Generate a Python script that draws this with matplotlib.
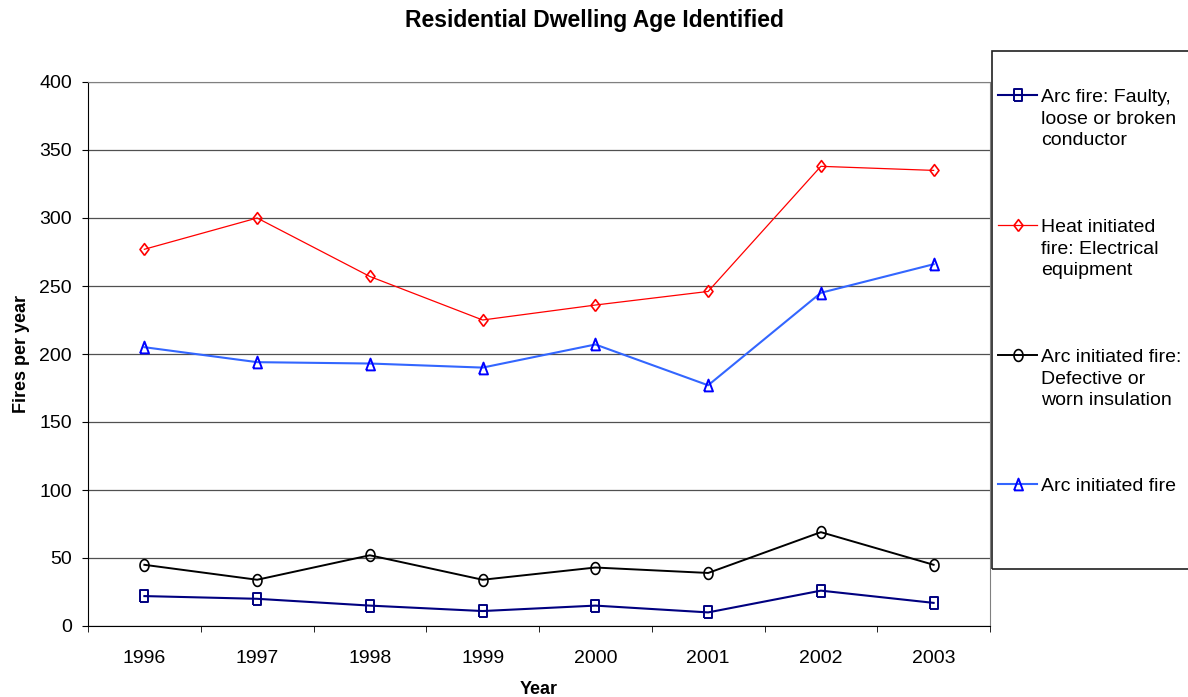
import matplotlib
matplotlib.use("Agg")
import numpy as np
import matplotlib.pyplot as plt
from matplotlib.ticker import MultipleLocator, FixedLocator
from matplotlib.lines import Line2D
from matplotlib.patches import Rectangle

plt.rcParams['font.family'] = ['Liberation Sans', 'DejaVu Sans']

years = ['1996', '1997', '1998', '1999', '2000', '2001', '2002', '2003']
conductor = [22, 20, 15, 11, 15, 10, 26, 17]
heat = [277, 300, 257, 225, 236, 246, 338, 335]
insulation = [45, 34, 52, 34, 43, 39, 69, 45]
arc = [205, 194, 193, 190, 207, 177, 245, 266]

labels = ['Arc fire: Faulty,\nloose or broken\nconductor',
          'Heat initiated\nfire: Electrical\nequipment',
          'Arc initiated fire:\nDefective or\nworn insulation',
          'Arc initiated fire']

W, H = 1188, 697

# markers in the reference are a bit taller than wide
sq = [(-0.38, -0.5), (0.38, -0.5), (0.38, 0.5), (-0.38, 0.5), (-0.38, -0.5)]
dia = [(0, -0.5), (0.38, 0), (0, 0.5), (-0.38, 0), (0, -0.5)]
tri = [(-0.38, -0.5), (0.38, -0.5), (0, 0.5), (-0.38, -0.5)]
t = np.linspace(0, 2 * np.pi, 41)
ell = list(zip(0.38 * np.cos(t), 0.5 * np.sin(t)))

styles = [
    dict(color='#000080', lw=1.5, marker=sq, ms=8.5, mec='#000080', mew=1.4),
    dict(color='#ff0000', lw=0.9, marker=dia, ms=8.5, mec='#ff0000', mew=1.2),
    dict(color='black', lw=1.4, marker=ell, ms=8.5, mec='black', mew=1.2),
    dict(color='#3366ff', lw=1.5, marker=tri, ms=8.5, mec='#0000ff', mew=1.4),
]
series = [conductor, heat, insulation, arc]

fig = plt.figure(figsize=(W / 100, H / 100), dpi=100)
ax = fig.add_axes([88 / W, 1 - 626 / H, (990 - 88) / W, (626 - 82) / H])

x = list(range(len(years)))
for vals, st in zip(series, styles):
    ax.plot(x, vals, mfc='none', **st)

ax.set_xlim(-0.5, len(years) - 0.5)
ax.set_ylim(0, 400)
ax.yaxis.set_major_locator(MultipleLocator(50))
ax.set_xticks(x)
ax.set_xticklabels(years)
ax.xaxis.set_minor_locator(FixedLocator([i + 0.5 for i in range(-1, len(years))]))
ax.tick_params(axis='x', which='major', length=0, labelsize=14, pad=17)
ax.tick_params(axis='x', which='minor', length=4.5, direction='out')
ax.tick_params(axis='y', length=4.5, direction='out', labelsize=14, pad=7)
ax.grid(axis='y', color='#505050', lw=0.9)
ax.set_axisbelow(True)

for s in ['top', 'right']:
    ax.spines[s].set_color('#808080')
ax.spines['left'].set_color('black')
ax.spines['bottom'].set_color('black')

ax.set_xlabel('Year', fontsize=13, fontweight='bold')
ax.xaxis.set_label_coords(0.5, -(681 - 626) / 544)
ax.set_ylabel('Fires per year', fontsize=13, fontweight='bold')
ax.yaxis.set_label_coords((30 - 88) / 902, 0.5)
fig.text(0.5, 1 - 21 / H, 'Residential Dwelling Age Identified', fontsize=16.5,
         fontweight='bold', ha='center', va='center')

# legend box drawn by hand to match the tall, spaced-out original
fig.add_artist(Rectangle((992 / W, 1 - 569 / H), (1240 - 992) / W, (569 - 51) / H,
                         transform=fig.transFigure, fill=False,
                         edgecolor='#202020', lw=1.2, clip_on=False))
first_line = [95, 225, 355, 484]
for lab, st, y0 in zip(labels, styles, first_line):
    yf = 1 - y0 / H
    fig.add_artist(Line2D([998 / W, 1017.5 / W, 1037 / W], [yf, yf, yf],
                          transform=fig.transFigure, mfc='none',
                          markevery=[1], **st))
    for i, line in enumerate(lab.split('\n')):
        fig.text(1041 / W, 1 - (y0 + i * 21.7 + 7) / H, line, fontsize=14,
                 ha='left', va='baseline')

fig.savefig('out.png', dpi=100)
